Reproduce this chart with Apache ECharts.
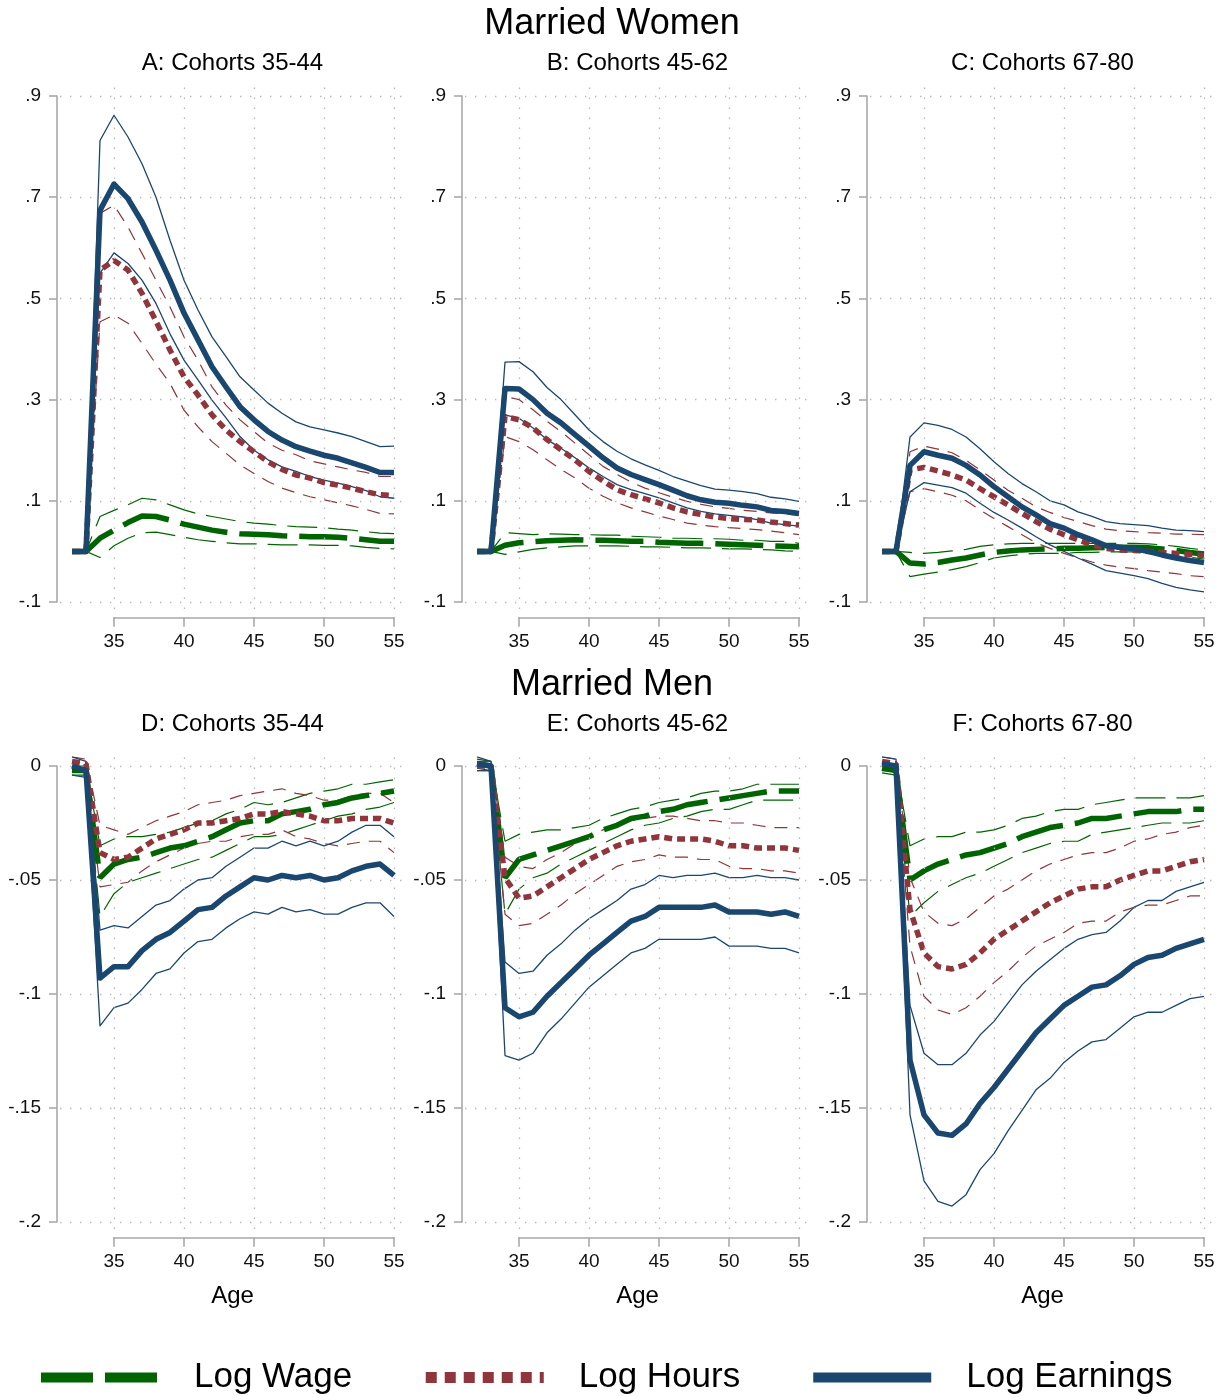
<!DOCTYPE html>
<html>
<head>
<meta charset="utf-8">
<script src="https://cdn.jsdelivr.net/npm/echarts@6/dist/echarts.min.js"></script>
<style>
  html, body { margin: 0; padding: 0; background: #fff; }
  #chart { width: 1225px; height: 1397px; }
</style>
</head>
<body>
<div id="chart"></div>
<script>
// Event-study estimates by age (child birth around age 34), with 95% bands.
const ages = [32,33,34,35,36,37,38,39,40,41,42,43,44,45,46,47,48,49,50,51,52,53,54,55];

// ---- Married women, cohorts 35-44 ----
const A_wage    = [0,0,0.026,0.042,0.057,0.070,0.069,0.062,0.054,0.048,0.042,0.038,0.035,0.034,0.033,0.031,0.030,0.029,0.029,0.028,0.026,0.023,0.020,0.020];
const A_wage_hi = [0,0,0.069,0.081,0.092,0.105,0.102,0.092,0.082,0.074,0.069,0.064,0.059,0.056,0.054,0.051,0.049,0.048,0.047,0.044,0.042,0.039,0.036,0.035];
const A_wage_lo = [0,0,-0.012,0.011,0.026,0.037,0.038,0.033,0.028,0.023,0.020,0.017,0.015,0.015,0.014,0.013,0.013,0.013,0.012,0.012,0.011,0.008,0.006,0.005];
const A_hours    = [0,0,0.556,0.575,0.556,0.510,0.455,0.398,0.345,0.309,0.270,0.240,0.217,0.197,0.177,0.162,0.151,0.145,0.136,0.131,0.125,0.118,0.112,0.110];
const A_hours_hi = [0,0,0.668,0.684,0.641,0.589,0.536,0.483,0.424,0.378,0.325,0.289,0.260,0.237,0.214,0.200,0.191,0.179,0.173,0.167,0.161,0.156,0.148,0.148];
const A_hours_lo = [0,0,0.454,0.467,0.451,0.411,0.370,0.332,0.279,0.246,0.217,0.194,0.171,0.154,0.138,0.125,0.116,0.108,0.102,0.096,0.090,0.083,0.075,0.074];
const A_earn    = [0,0,0.674,0.726,0.697,0.651,0.595,0.536,0.471,0.418,0.365,0.325,0.286,0.260,0.237,0.220,0.207,0.198,0.190,0.184,0.175,0.166,0.156,0.156];
const A_earn_hi = [0,0,0.812,0.862,0.819,0.766,0.700,0.615,0.536,0.477,0.424,0.385,0.345,0.319,0.293,0.273,0.256,0.246,0.240,0.234,0.227,0.217,0.207,0.208];
const A_earn_lo = [0,0,0.550,0.590,0.569,0.536,0.490,0.430,0.378,0.339,0.299,0.264,0.227,0.200,0.181,0.167,0.158,0.148,0.141,0.135,0.128,0.120,0.108,0.105];

// ---- Married women, cohorts 45-62 ----
const B_wage    = [0,0,0.012,0.017,0.019,0.021,0.022,0.023,0.022,0.022,0.021,0.020,0.020,0.018,0.017,0.016,0.016,0.015,0.014,0.013,0.012,0.011,0.010,0.009];
const B_wage_hi = [0,0,0.037,0.035,0.033,0.035,0.034,0.033,0.033,0.032,0.032,0.030,0.029,0.028,0.026,0.026,0.025,0.025,0.024,0.022,0.022,0.020,0.020,0.016];
const B_wage_lo = [0,0,-0.006,-0.001,0.004,0.007,0.009,0.011,0.011,0.011,0.011,0.010,0.009,0.009,0.008,0.007,0.007,0.006,0.005,0.005,0.004,0.003,0.001,0.000];
const B_hours    = [0,0,0.267,0.260,0.244,0.221,0.201,0.181,0.158,0.139,0.122,0.112,0.104,0.096,0.086,0.078,0.073,0.068,0.065,0.063,0.062,0.058,0.055,0.052];
const B_hours_hi = [0,0,0.306,0.300,0.280,0.257,0.237,0.214,0.191,0.168,0.152,0.137,0.125,0.116,0.107,0.099,0.093,0.088,0.085,0.081,0.079,0.076,0.074,0.071];
const B_hours_lo = [0,0,0.227,0.217,0.201,0.181,0.162,0.145,0.125,0.109,0.096,0.086,0.078,0.070,0.063,0.056,0.052,0.049,0.047,0.045,0.043,0.040,0.037,0.033];
const B_earn    = [0,0,0.322,0.321,0.300,0.273,0.254,0.231,0.208,0.185,0.165,0.152,0.142,0.132,0.121,0.110,0.102,0.097,0.095,0.091,0.088,0.081,0.079,0.075];
const B_earn_hi = [0,0,0.374,0.375,0.355,0.324,0.300,0.270,0.240,0.217,0.198,0.183,0.171,0.160,0.148,0.139,0.130,0.123,0.121,0.118,0.114,0.107,0.104,0.099];
const B_earn_lo = [0,0,0.270,0.263,0.244,0.221,0.204,0.185,0.165,0.148,0.132,0.122,0.114,0.106,0.096,0.086,0.079,0.074,0.071,0.068,0.063,0.056,0.053,0.050];

// ---- Married women, cohorts 67-80 ----
const C_wage    = [0,0,-0.023,-0.025,-0.022,-0.017,-0.013,-0.007,-0.002,0.001,0.003,0.004,0.005,0.006,0.006,0.007,0.008,0.008,0.008,0.007,0.005,0.002,-0.002,-0.005];
const C_wage_hi = [0,0,-0.002,-0.004,-0.002,0.001,0.004,0.010,0.013,0.015,0.016,0.016,0.016,0.016,0.016,0.016,0.016,0.016,0.016,0.015,0.013,0.010,0.006,0.003];
const C_wage_lo = [0,0,-0.050,-0.045,-0.041,-0.036,-0.030,-0.022,-0.013,-0.009,-0.006,-0.004,-0.004,-0.004,-0.002,-0.002,-0.001,-0.001,-0.001,-0.004,-0.006,-0.009,-0.012,-0.015];
const C_hours    = [0,0,0.161,0.166,0.159,0.151,0.141,0.124,0.108,0.092,0.075,0.059,0.044,0.033,0.023,0.013,0.006,0.003,0.002,0.000,-0.002,-0.004,-0.006,-0.008];
const C_hours_hi = [0,0,0.197,0.208,0.202,0.195,0.180,0.161,0.141,0.121,0.105,0.088,0.077,0.067,0.059,0.051,0.044,0.041,0.039,0.037,0.036,0.034,0.034,0.033];
const C_hours_lo = [0,0,0.118,0.124,0.118,0.111,0.100,0.082,0.065,0.049,0.033,0.017,0.006,-0.004,-0.013,-0.021,-0.027,-0.031,-0.034,-0.038,-0.041,-0.044,-0.048,-0.050];
const C_earn    = [0,0,0.170,0.197,0.190,0.184,0.170,0.151,0.128,0.108,0.088,0.072,0.055,0.046,0.033,0.023,0.011,0.008,0.005,0.000,-0.007,-0.013,-0.018,-0.022];
const C_earn_hi = [0,0,0.226,0.254,0.249,0.241,0.226,0.203,0.177,0.154,0.134,0.118,0.100,0.092,0.078,0.069,0.059,0.055,0.053,0.051,0.046,0.042,0.041,0.039];
const C_earn_lo = [0,0,0.118,0.136,0.131,0.126,0.115,0.095,0.077,0.062,0.046,0.029,0.013,0.000,-0.013,-0.025,-0.038,-0.043,-0.048,-0.054,-0.063,-0.071,-0.076,-0.080];

// ---- Married men, cohorts 35-44 ----
const D_wage    = [-0.002,-0.002,-0.049,-0.043,-0.041,-0.040,-0.038,-0.036,-0.035,-0.033,-0.031,-0.028,-0.025,-0.024,-0.024,-0.021,-0.020,-0.019,-0.017,-0.016,-0.014,-0.013,-0.012,-0.011];
const D_wage_hi = [0.000,0.000,-0.035,-0.032,-0.031,-0.031,-0.030,-0.029,-0.027,-0.025,-0.024,-0.021,-0.019,-0.016,-0.017,-0.016,-0.014,-0.012,-0.011,-0.010,-0.008,-0.008,-0.007,-0.006];
const D_wage_lo = [-0.004,-0.004,-0.066,-0.056,-0.051,-0.049,-0.047,-0.045,-0.043,-0.041,-0.040,-0.037,-0.034,-0.031,-0.031,-0.030,-0.028,-0.026,-0.024,-0.022,-0.021,-0.019,-0.018,-0.016];
const D_hours    = [0.002,0.001,-0.038,-0.041,-0.040,-0.036,-0.032,-0.030,-0.028,-0.025,-0.025,-0.024,-0.023,-0.021,-0.021,-0.020,-0.021,-0.022,-0.024,-0.024,-0.023,-0.023,-0.023,-0.025];
const D_hours_hi = [0.004,0.003,-0.026,-0.028,-0.030,-0.027,-0.024,-0.022,-0.020,-0.017,-0.016,-0.015,-0.013,-0.012,-0.011,-0.010,-0.012,-0.013,-0.015,-0.015,-0.013,-0.012,-0.012,-0.016];
const D_hours_lo = [-0.001,-0.001,-0.053,-0.052,-0.051,-0.046,-0.042,-0.039,-0.036,-0.034,-0.033,-0.033,-0.031,-0.030,-0.030,-0.028,-0.031,-0.032,-0.034,-0.035,-0.034,-0.033,-0.033,-0.038];
const D_earn    = [0.000,-0.002,-0.093,-0.088,-0.088,-0.081,-0.076,-0.073,-0.068,-0.063,-0.062,-0.057,-0.053,-0.049,-0.050,-0.048,-0.049,-0.048,-0.050,-0.049,-0.046,-0.044,-0.043,-0.048];
const D_earn_hi = [0.004,0.002,-0.072,-0.070,-0.071,-0.066,-0.061,-0.059,-0.054,-0.050,-0.049,-0.044,-0.040,-0.036,-0.036,-0.033,-0.035,-0.033,-0.035,-0.033,-0.029,-0.026,-0.026,-0.031];
const D_earn_lo = [-0.004,-0.005,-0.114,-0.106,-0.104,-0.098,-0.091,-0.089,-0.082,-0.077,-0.076,-0.071,-0.067,-0.064,-0.065,-0.062,-0.064,-0.063,-0.065,-0.065,-0.062,-0.060,-0.060,-0.066];

// ---- Married men, cohorts 45-62 ----
const E_wage    = [0.001,0.000,-0.049,-0.041,-0.039,-0.037,-0.035,-0.033,-0.031,-0.028,-0.026,-0.023,-0.022,-0.020,-0.019,-0.017,-0.016,-0.015,-0.014,-0.013,-0.012,-0.011,-0.011,-0.011];
const E_wage_hi = [0.003,0.002,-0.033,-0.030,-0.029,-0.028,-0.028,-0.027,-0.026,-0.023,-0.021,-0.019,-0.018,-0.016,-0.015,-0.014,-0.012,-0.011,-0.011,-0.010,-0.008,-0.008,-0.008,-0.008];
const E_wage_lo = [-0.001,-0.002,-0.065,-0.054,-0.049,-0.047,-0.043,-0.040,-0.037,-0.034,-0.031,-0.028,-0.026,-0.025,-0.023,-0.022,-0.020,-0.019,-0.019,-0.017,-0.015,-0.015,-0.015,-0.015];
const E_hours    = [0.000,0.000,-0.049,-0.058,-0.057,-0.053,-0.049,-0.045,-0.041,-0.038,-0.035,-0.033,-0.032,-0.031,-0.032,-0.032,-0.032,-0.033,-0.035,-0.035,-0.036,-0.036,-0.036,-0.037];
const E_hours_hi = [0.002,0.002,-0.040,-0.044,-0.045,-0.041,-0.038,-0.034,-0.031,-0.028,-0.026,-0.024,-0.023,-0.022,-0.022,-0.023,-0.024,-0.024,-0.025,-0.025,-0.026,-0.027,-0.027,-0.027];
const E_hours_lo = [-0.002,-0.002,-0.065,-0.070,-0.069,-0.065,-0.061,-0.056,-0.052,-0.048,-0.044,-0.042,-0.041,-0.039,-0.040,-0.040,-0.041,-0.041,-0.044,-0.045,-0.045,-0.046,-0.046,-0.047];
const E_earn    = [0.001,0.000,-0.106,-0.110,-0.108,-0.101,-0.095,-0.089,-0.083,-0.078,-0.073,-0.068,-0.066,-0.062,-0.062,-0.062,-0.062,-0.061,-0.064,-0.064,-0.064,-0.065,-0.064,-0.066];
const E_earn_hi = [0.004,0.002,-0.086,-0.091,-0.090,-0.083,-0.078,-0.072,-0.067,-0.063,-0.059,-0.054,-0.052,-0.048,-0.049,-0.048,-0.048,-0.047,-0.049,-0.049,-0.048,-0.049,-0.049,-0.050];
const E_earn_lo = [-0.002,-0.002,-0.127,-0.129,-0.126,-0.117,-0.111,-0.104,-0.097,-0.092,-0.087,-0.082,-0.080,-0.076,-0.076,-0.076,-0.076,-0.075,-0.079,-0.079,-0.079,-0.080,-0.080,-0.082];

// ---- Married men, cohorts 67-80 ----
const F_wage    = [-0.001,-0.002,-0.050,-0.046,-0.043,-0.041,-0.039,-0.038,-0.036,-0.034,-0.031,-0.029,-0.027,-0.026,-0.025,-0.023,-0.023,-0.022,-0.021,-0.020,-0.020,-0.020,-0.019,-0.019];
const F_wage_hi = [0.001,0.000,-0.035,-0.032,-0.031,-0.031,-0.029,-0.029,-0.028,-0.026,-0.023,-0.022,-0.020,-0.019,-0.019,-0.017,-0.016,-0.015,-0.014,-0.014,-0.014,-0.014,-0.014,-0.013];
const F_wage_lo = [-0.003,-0.004,-0.066,-0.060,-0.055,-0.052,-0.049,-0.047,-0.044,-0.041,-0.038,-0.036,-0.034,-0.033,-0.033,-0.030,-0.029,-0.028,-0.027,-0.026,-0.025,-0.025,-0.025,-0.024];
const F_hours    = [0.002,0.001,-0.063,-0.082,-0.088,-0.089,-0.087,-0.082,-0.076,-0.072,-0.068,-0.064,-0.060,-0.057,-0.054,-0.053,-0.053,-0.050,-0.048,-0.046,-0.046,-0.044,-0.042,-0.041];
const F_hours_hi = [0.004,0.003,-0.049,-0.064,-0.069,-0.070,-0.067,-0.062,-0.057,-0.054,-0.050,-0.046,-0.043,-0.041,-0.039,-0.038,-0.038,-0.036,-0.033,-0.032,-0.030,-0.029,-0.027,-0.026];
const F_hours_lo = [0.000,-0.001,-0.079,-0.101,-0.107,-0.109,-0.106,-0.101,-0.095,-0.090,-0.084,-0.079,-0.076,-0.073,-0.069,-0.068,-0.068,-0.064,-0.062,-0.061,-0.061,-0.059,-0.057,-0.057];
const F_earn    = [0.001,0.000,-0.129,-0.153,-0.161,-0.162,-0.157,-0.148,-0.141,-0.133,-0.125,-0.117,-0.111,-0.105,-0.101,-0.097,-0.096,-0.092,-0.087,-0.084,-0.083,-0.080,-0.078,-0.076];
const F_earn_hi = [0.004,0.003,-0.105,-0.126,-0.131,-0.131,-0.126,-0.118,-0.112,-0.104,-0.096,-0.090,-0.085,-0.080,-0.076,-0.074,-0.073,-0.068,-0.062,-0.059,-0.059,-0.055,-0.053,-0.051];
const F_earn_lo = [-0.002,-0.002,-0.153,-0.182,-0.191,-0.193,-0.188,-0.177,-0.170,-0.160,-0.151,-0.142,-0.137,-0.130,-0.125,-0.121,-0.120,-0.115,-0.110,-0.108,-0.108,-0.105,-0.102,-0.101];

// Tick values
const xTicks = [35, 40, 45, 50, 55];
const womenTicks = [-0.1, 0.1, 0.3, 0.5, 0.7, 0.9];
const menTicks = [-0.2, -0.15, -0.1, -0.05, 0];

const rowTitles = ['Married Women', 'Married Men'];
const seriesNames = ['Log Wage', 'Log Hours', 'Log Earnings'];

// ---- Styling and layout ----
const FONT = '"Liberation Sans", Arial, Helvetica, sans-serif';
const GREEN = '#006400';
const RED = '#90353b';
const BLUE = '#1a476f';
const AXIS = '#a9a9a9';
const GRIDC = '#b8b8b8';

const PX_PER_YEAR = 14;
const TICK_LEN = 8;
const rows = [
  { ticks: womenTicks, tickMin: -0.1, tickMax: 0.9, interval: 0.2, tickTop: 96, tickBottom: 602, plotTop: 87, plotBottom: 609, xAxisY: 618, titleTop: 6, subTop: 51 },
  { ticks: menTicks, tickMin: -0.2, tickMax: 0, interval: 0.05, tickTop: 766, tickBottom: 1222, plotTop: 757, plotBottom: 1229, xAxisY: 1238, titleTop: 667, subTop: 712 }
];
const colX35 = [114, 519, 924];

const panels = [
  { row: 0, col: 0, label: 'A: Cohorts 35-44', wage: [A_wage, A_wage_lo, A_wage_hi], hours: [A_hours, A_hours_lo, A_hours_hi], earn: [A_earn, A_earn_lo, A_earn_hi] },
  { row: 0, col: 1, label: 'B: Cohorts 45-62', wage: [B_wage, B_wage_lo, B_wage_hi], hours: [B_hours, B_hours_lo, B_hours_hi], earn: [B_earn, B_earn_lo, B_earn_hi] },
  { row: 0, col: 2, label: 'C: Cohorts 67-80', wage: [C_wage, C_wage_lo, C_wage_hi], hours: [C_hours, C_hours_lo, C_hours_hi], earn: [C_earn, C_earn_lo, C_earn_hi] },
  { row: 1, col: 0, label: 'D: Cohorts 35-44', wage: [D_wage, D_wage_lo, D_wage_hi], hours: [D_hours, D_hours_lo, D_hours_hi], earn: [D_earn, D_earn_lo, D_earn_hi] },
  { row: 1, col: 1, label: 'E: Cohorts 45-62', wage: [E_wage, E_wage_lo, E_wage_hi], hours: [E_hours, E_hours_lo, E_hours_hi], earn: [E_earn, E_earn_lo, E_earn_hi] },
  { row: 1, col: 2, label: 'F: Cohorts 67-80', wage: [F_wage, F_wage_lo, F_wage_hi], hours: [F_hours, F_hours_lo, F_hours_hi], earn: [F_earn, F_earn_lo, F_earn_hi] }
];

const PAD_LEFT = 54, PAD_RIGHT = 11;   // plot region beyond the 35..55 tick span
const AXIS_GAP_Y = 57;                  // y axis line drawn left of age 35

function fmtTick(v) {
  const s = String(Number(v.toFixed(3)));
  return s.replace(/^(-?)0\./, '$1.');
}

const pairs = vals => ages.map((a, i) => [a, vals[i]]);

const grids = [], xAxes = [], yAxes = [], series = [], titles = [], axisFrames = [];

rows.forEach((r, ri) => {
  titles.push({ text: rowTitles[ri], left: 612, top: r.titleTop, textAlign: 'center', padding: 0,
    textStyle: { fontFamily: FONT, fontSize: 36, fontWeight: 'normal', color: '#000' } });
});

const lineStyleOf = () => ({ color: AXIS, width: 1.6 });
const tickLabel = () => ({ color: '#111', fontFamily: FONT, fontSize: 19 });

panels.forEach((p, pi) => {
  const r = rows[p.row];
  const x35 = colX35[p.col];
  const pxPerUnit = (r.tickBottom - r.tickTop) / (r.tickMax - r.tickMin);
  const gPlot = pi * 3, gX = pi * 3 + 1, gY = pi * 3 + 2;
  const plotLeft = x35 - PAD_LEFT;
  const plotWidth = 20 * PX_PER_YEAR + PAD_LEFT + PAD_RIGHT;
  const spanW = 20 * PX_PER_YEAR;

  // Plot region: holds data and dotted grid lines
  grids.push({ left: plotLeft, top: r.plotTop, width: plotWidth, height: r.plotBottom - r.plotTop,
    outerBoundsMode: 'none' });
  xAxes.push({ type: 'value', gridIndex: gPlot, show: false,
    min: 35 - PAD_LEFT / PX_PER_YEAR, max: 55 + PAD_RIGHT / PX_PER_YEAR });
  yAxes.push({ type: 'value', gridIndex: gPlot, show: false,
    min: r.tickMin - (r.plotBottom - r.tickBottom) / pxPerUnit,
    max: r.tickMax + (r.tickTop - r.plotTop) / pxPerUnit });

  // Age axis frame: reaches down to the tick ends; labels sit below it
  const xFrameH = r.xAxisY + TICK_LEN - r.tickTop;
  grids.push({ left: x35, top: r.tickTop, width: spanW, height: xFrameH, outerBoundsMode: 'none' });
  xAxes.push({
    type: 'value', gridIndex: gX, min: 35, max: 55, interval: 5,
    axisLine: { show: false, onZero: false },
    axisTick: { show: false },
    splitLine: { show: false },
    axisLabel: Object.assign(tickLabel(), { margin: 6 })
  });
  yAxes.push({ type: 'value', gridIndex: gX, show: false, min: 0, max: xFrameH });
  axisFrames.push({ gX, row: r });

  // Value axis: spans exactly the tick range, drawn left of the plot region
  grids.push({ left: x35, top: r.tickTop, width: spanW, height: r.tickBottom - r.tickTop,
    outerBoundsMode: 'none' });
  xAxes.push({ type: 'value', gridIndex: gY, show: false, min: 35, max: 55 });
  yAxes.push({
    type: 'value', gridIndex: gY, min: r.tickMin, max: r.tickMax, interval: r.interval, offset: AXIS_GAP_Y,
    axisLine: { show: true, onZero: false, lineStyle: lineStyleOf() },
    axisTick: { show: true, length: TICK_LEN, lineStyle: lineStyleOf(), customValues: r.ticks },
    splitLine: { show: false },
    axisLabel: Object.assign(tickLabel(), { margin: 16, customValues: r.ticks, formatter: v => fmtTick(v) })
  });

  // Panel heading and x-axis title centred over the plot region
  const centerX = plotLeft + plotWidth / 2;
  titles.push({ text: p.label, left: centerX, top: r.subTop, textAlign: 'center', padding: 0,
    textStyle: { fontFamily: FONT, fontSize: 24, fontWeight: 'normal', color: '#000' } });
  if (p.row === 1) {
    titles.push({ text: 'Age', left: centerX, top: 1284, textAlign: 'center', padding: 0,
      textStyle: { fontFamily: FONT, fontSize: 24, fontWeight: 'normal', color: '#000' } });
  }

  // Dotted grid lines at the tick values
  series.push({
    type: 'line', data: [], xAxisIndex: gPlot, yAxisIndex: gPlot, silent: true, z: 1,
    markLine: {
      silent: true, animation: false, symbol: ['none', 'none'], label: { show: false },
      emphasis: { disabled: true },
      lineStyle: { color: GRIDC, width: 1.3, type: [1.4, 8.6] },
      data: r.ticks.map(v => ({ yAxis: v })).concat(xTicks.map(v => ({ xAxis: v })))
    }
  });

  const mk = (name, vals, style, z) => ({
    type: 'line', name, data: pairs(vals), xAxisIndex: gPlot, yAxisIndex: gPlot,
    symbol: 'none', showSymbol: false, silent: true, animation: false, z,
    emphasis: { disabled: true }, lineStyle: style
  });

  // Confidence bands (thin)
  const thinWage = { color: GREEN, width: 1.2, type: [30, 11], cap: 'butt' };
  const thinHours = { color: RED, width: 1.2, type: [13, 9], cap: 'butt' };
  const thinEarn = { color: BLUE, width: 1.3, join: 'round' };
  series.push(mk('Log Wage CI', p.wage[1], thinWage, 2));
  series.push(mk('Log Wage CI', p.wage[2], thinWage, 2));
  series.push(mk('Log Hours CI', p.hours[1], thinHours, 2));
  series.push(mk('Log Hours CI', p.hours[2], thinHours, 2));
  series.push(mk('Log Earnings CI', p.earn[1], thinEarn, 2));
  series.push(mk('Log Earnings CI', p.earn[2], thinEarn, 2));

  // Point estimates (thick)
  series.push(mk('Log Wage', p.wage[0], { color: GREEN, width: 5.5, type: [48, 12], cap: 'butt' }, 3));
  series.push(mk('Log Hours', p.hours[0], { color: RED, width: 5.5, type: [8, 5], cap: 'butt' }, 4));
  series.push(mk('Log Earnings', p.earn[0], { color: BLUE, width: 5.5, join: 'round' }, 5));
});

const chart = echarts.init(document.getElementById('chart'), null, { renderer: 'canvas' });
chart.setOption({
  animation: false,
  backgroundColor: '#fff',
  color: [GREEN, RED, BLUE],
  title: titles,
  grid: grids,
  xAxis: xAxes,
  yAxis: yAxes,
  legend: {
    left: 36, top: 1360, padding: 0, itemWidth: 118, itemHeight: 12, itemGap: 68,
    selectedMode: false,
    itemStyle: { opacity: 0 },
    textStyle: { fontFamily: FONT, fontSize: 35, color: '#000', padding: [0, 0, 0, 30] },
    data: [
      { name: seriesNames[0], lineStyle: { color: GREEN, width: 10, type: [52, 12], cap: 'butt' } },
      { name: seriesNames[1], lineStyle: { color: RED, width: 11, type: [11, 8], cap: 'butt' } },
      { name: seriesNames[2], lineStyle: { color: BLUE, width: 10 } }
    ]
  },
  series: series
});

// Age axis line and outward ticks, placed through each age-axis frame's scale
const axisGraphics = [];
axisFrames.forEach(({ gX }) => {
  const finder = { xAxisIndex: gX, yAxisIndex: gX };
  const lineY = chart.convertToPixel(finder, [35, TICK_LEN])[1];
  const tickEnd = chart.convertToPixel(finder, [35, 0])[1];
  const xStart = chart.convertToPixel(finder, [35, TICK_LEN])[0];
  const xEnd = chart.convertToPixel(finder, [55, TICK_LEN])[0];
  const stroke = { stroke: AXIS, lineWidth: 1.6, lineCap: 'square' };
  axisGraphics.push({ type: 'line', z: 100, silent: true,
    shape: { x1: xStart, y1: lineY, x2: xEnd, y2: lineY }, style: stroke });
  xTicks.forEach(t => {
    const x = chart.convertToPixel(finder, [t, TICK_LEN])[0];
    axisGraphics.push({ type: 'line', z: 100, silent: true,
      shape: { x1: x, y1: lineY, x2: x, y2: tickEnd }, style: stroke });
  });
});
chart.setOption({ graphic: axisGraphics });
</script>
</body>
</html>
